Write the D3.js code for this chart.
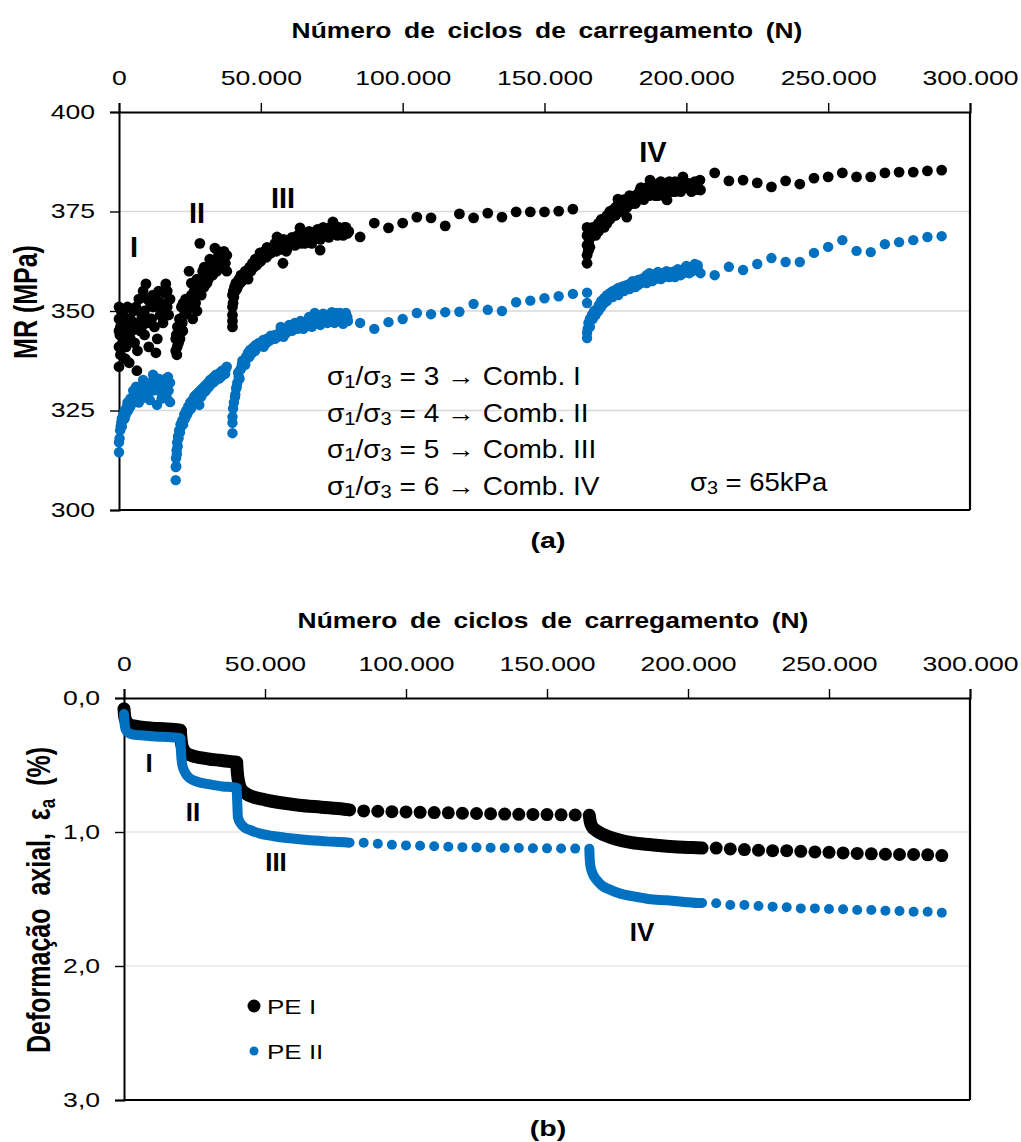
<!DOCTYPE html>
<html>
<head>
<meta charset="utf-8">
<script src="https://cdn.jsdelivr.net/npm/d3@7"></script>
<style>
  body { margin: 0; background: #fff; }
  svg { display: block; }
  text { font-family: "Liberation Sans", Arial, sans-serif; fill: #000; }
</style>
</head>
<body>
<svg id="fig" width="1021" height="1142"></svg>
<script>
// ---------- axis ticks ----------
const cycleTicks = [0, 50000, 100000, 150000, 200000, 250000, 300000];
const mrTicks = [300, 325, 350, 375, 400];
const defTicks = [0, 1, 2, 3];
const seriesNames = ["PE I", "PE II"];
const combLines = ["3 → Comb. I", "4 → Comb. II", "5 → Comb. III", "6 → Comb. IV"];
const phaseLabels = ["I", "II", "III", "IV"];

// ---------- (a) resilient modulus, PE I  [cycles, MPa] ----------
const mrPE1CombI = [[0,336],[0,341],[0,345],[0,348],[0,351],[300,344],[500,339],[500,346],[800,350],[1000,346],[1000,349],[1200,342],[1500,349],[1500,344],[2000,344],[2200,338],[2500,347],[2500,341],[3000,351],[3000,346],[3300,343],[3600,337],[4000,348],[4000,343],[4500,345],[5000,350],[5000,346],[5500,342],[6000,347],[6000,351],[6300,335],[6500,340],[7000,353],[7000,347],[7500,345],[8000,349],[8000,346],[8500,355],[9000,344],[9000,350],[9500,356.8],[10000,347],[10000,353],[10500,341],[11000,352],[11000,348],[11500,348],[12000,354],[12000,351],[12500,346],[13000,339.5],[13000,353],[13500,343],[14000,355],[14000,351],[14500,349],[15000,352],[15000,349],[15500,347],[16000,354.5],[16000,350],[16500,356.8],[17000,351],[17000,355],[17500,349],[18000,353]];
const mrPE1CombII = [[20000,340],[20000,343],[20200,344],[20400,339],[20500,341],[20600,346],[21000,342],[21300,348],[21500,343],[21600,345],[22000,351],[22300,347],[22500,345],[22600,352],[23000,349],[23500,353],[23500,350],[24000,350],[24500,352],[24700,360],[25000,352],[25500,357],[25500,354],[26000,354],[26000,348],[26500,351],[26500,355],[27000,356],[27000,352],[27500,350],[27500,358],[28000,355],[28000,358],[28500,367],[29000,357],[29000,354],[29500,360],[30000,356],[30000,361],[30500,359],[31000,361],[31000,357],[31500,358],[32000,360],[32000,363],[32500,362],[33000,359],[33000,362],[33800,365.8],[34000,363],[34000,361],[34500,360],[35000,362],[35000,365],[35500,364],[36000,361],[36000,363],[36700,364.3],[37000,365],[37000,361],[37500,362],[38000,364],[38000,360]];
const mrPE1CombIII = [[40000,346],[40000,347.5],[40000,349],[40000,351],[40000,354],[40200,352],[40300,355],[40500,353.5],[40700,356],[41000,355],[41200,357],[41500,355.5],[41800,356],[42000,357.5],[42300,358],[42700,357],[43000,359],[43300,357.5],[43700,358],[44000,359],[44500,360],[45100,359.5],[45500,358],[46000,361],[46500,360],[47000,362],[47500,361],[48000,363],[48500,361.5],[49000,362],[49700,364.6],[50000,362.5],[50500,364],[51000,363.5],[51300,365],[52000,363.5],[52200,366],[53000,365],[53500,364.5],[54000,366],[54500,365.5],[55000,367],[55500,365],[55700,368.6],[56500,366],[57000,365.5],[57800,362],[58000,368],[58500,367],[59000,365],[59500,366],[60000,366.5],[60500,368],[61000,368.5],[61500,367],[62000,366.5],[62500,368],[63000,369],[63800,370.9],[64000,367],[64500,368],[65000,369.5],[65500,367],[66000,367.5],[66500,369],[67000,370],[67500,368],[68000,367],[68500,369],[69000,368.5],[69500,370],[70000,370.5],[70900,365.3],[71000,368],[71500,369],[72000,371],[72500,370],[73000,370.5],[73500,369],[74000,368.5],[74500,371],[75000,369.5],[75400,372.4],[76000,371.5],[76500,370],[77000,369],[77500,371],[78000,370.5],[78500,370],[79000,369],[79500,371],[80000,371],[80500,369.5],[81000,370]];
const mrPE1Mid = [[85000,368.6],[90000,372.1],[95000,370.9],[100000,372.1],[105000,373.6],[110000,373.4],[115000,371.4],[120000,374.4],[125000,373.4],[130000,374.6],[135000,373.6],[140000,374.9],[145000,374.9],[150000,374.9],[155000,375.1],[160000,375.6]];
const mrPE1CombIV = [[165000,362],[165000,364],[165000,366.5],[165000,369],[165000,371],[165400,365],[165500,367],[165800,368],[166000,366],[166300,370],[167000,369],[167000,371],[168000,371],[168000,369],[169000,372],[169000,370],[170000,371],[170000,373],[171000,373],[171000,371],[172000,374],[172000,372],[173000,373],[173000,375],[174000,374],[174100,375.4],[175000,376],[175000,374],[175900,378.1],[176000,377],[177000,376],[177000,375],[178000,377],[178000,378],[179000,373.6],[179000,376],[180000,377],[180000,379],[181000,378],[181000,377],[182000,379],[182000,377],[183000,378],[183000,379.5],[183700,380.4],[184000,381],[184700,379],[185000,378],[185700,380],[186000,381],[187000,379],[187200,382.9],[188000,380],[188000,382],[189000,381],[189000,379],[190000,379],[190000,382],[191000,380],[191000,382.5],[192000,381],[192000,379],[193000,380],[193200,377.9],[194000,381],[194000,382.5],[195000,382],[195000,380],[196000,380],[196000,382.5],[197000,382],[197000,381],[198000,381],[198000,380],[198800,383.7],[199000,382.5],[199800,381],[200000,381],[200800,382],[201000,382],[201800,380],[202000,381],[202800,382],[203000,382.5],[203800,381],[204000,380.5],[204800,382.9],[205000,380.4]];
const mrPE1End = [[210000,384.7],[215000,382.7],[220000,382.9],[225000,382.2],[230000,381.2],[235000,382.7],[240000,381.9],[245000,383.4],[250000,383.7],[255000,384.7],[260000,383.7],[265000,383.7],[270000,384.7],[275000,384.9],[280000,384.9],[285000,385.2],[290000,385.4]];

// ---------- (a) resilient modulus, PE II ----------
const mrPE2CombI = [[0,314.5],[0,317],[200,318],[400,320],[600,321],[800,322],[1000,323],[1000,321],[1300,322.5],[1600,324],[2000,325],[2000,323],[2400,324],[2800,326],[3000,327],[3200,325],[3600,327],[4000,326],[4000,328],[4900,326.9],[5000,328],[5000,330],[5500,329],[6000,328],[6000,331],[6500,330],[7000,329],[7000,327],[7500,331],[8000,328],[8000,331],[8500,332.7],[9000,330],[9000,331.5],[9500,329],[10000,331],[10000,329],[10900,327.6],[11000,330],[11000,332],[11500,332],[12000,334],[12000,330],[12500,331],[13000,333],[13000,331],[13400,326.4],[14000,330],[14000,333],[14500,332],[15000,328],[15000,330],[15500,331],[16000,329],[16000,331],[16500,333],[17000,328],[17000,331.5],[17300,333.4],[17500,330],[18000,332],[18000,327.1]];
const mrPE2CombII = [[20000,307.5],[20000,310.8],[20100,313],[20200,311],[20300,315],[20400,314],[20500,317],[20700,316],[20800,318.5],[21000,318],[21200,320],[21500,319.5],[21700,321.5],[22000,321],[22300,322.5],[22600,321.5],[23000,324],[23300,323],[23700,325],[24000,324],[24400,326],[24700,325],[25100,327],[25400,325.5],[25800,327.5],[26100,326.5],[26500,328.5],[26800,327],[27200,329],[27500,328],[27900,329.5],[28200,328],[28300,326.4],[28600,330],[29000,328.5],[29300,330.5],[29700,329.5],[30000,331],[30400,329.8],[30700,331.5],[31100,330.5],[31400,332],[31800,331],[32100,332.7],[32500,331.8],[32800,333],[33200,332],[33500,333.5],[33900,332.5],[34200,334],[34600,333],[34900,334],[35300,333],[35600,334.5],[36000,333.5],[36300,335],[36700,334],[37000,335.2],[37400,334.2],[37700,335.5],[38000,336]];
const mrPE2CombIII = [[40000,319.3],[40000,321.9],[40000,323.4],[40200,325.5],[40500,327],[40900,328.4],[41000,329],[41300,330.5],[41500,331],[41700,332],[42000,334.5],[42200,333.5],[42500,333],[42700,335.2],[43000,335.5],[43300,336.5],[43500,337.5],[44000,337.5],[44500,336.5],[44800,338.5],[45000,338],[45500,339.5],[46000,338.5],[46200,340.2],[47000,339.5],[47200,340.8],[48000,340],[48200,341.5],[49000,341],[49300,342],[50000,341.5],[50800,342.7],[51000,341],[52000,343],[52000,342],[53000,342.5],[53500,343.8],[54000,343],[55000,344],[55000,343],[56000,343.5],[56500,344.5],[57000,346],[57800,344.7],[58000,343.5],[59000,345.3],[59000,344.5],[60000,346.5],[60500,345.5],[61000,345],[62000,346],[62000,347],[63000,345.5],[63800,346],[64000,347.5],[65000,346.8],[65000,345.5],[66000,346.5],[66500,347.3],[67000,348.5],[68000,347.5],[68000,346],[69000,349.5],[69000,347],[69800,348.2],[70000,349],[71000,348],[71000,346.5],[72000,349.3],[72500,348.5],[73000,348],[73500,347],[74000,347.5],[74400,349],[75000,349.7],[75500,348.3],[76000,347],[76500,349.5],[77000,349],[77500,347.5],[78000,349.5],[78500,348.5],[79000,346.8],[79700,347.7],[80000,349.5],[80500,348.5],[80700,347.5]];
const mrPE2Mid = [[85000,347],[90000,345.5],[95000,347.2],[100000,348],[105000,349.5],[110000,349.2],[115000,349.7],[120000,349.8],[125000,351.8],[130000,350.3],[135000,350],[140000,352.2],[145000,352.6],[150000,353.2],[155000,353.7],[160000,354.3],[165000,354.6],[165000,352]];
const mrPE2CombIV = [[165000,343.2],[165000,344.5],[165200,345.5],[165500,347],[166000,348],[166000,346],[166700,349],[167000,348],[167500,350],[168000,349],[168500,350.5],[169000,350],[169200,351.5],[170000,352.5],[170000,351],[171000,353.2],[171000,352],[172000,354],[172000,352.5],[173000,354.5],[173000,353.5],[174000,355],[174000,353.5],[175000,355.3],[175000,354.5],[176000,355.8],[176000,354],[177000,356],[177000,355],[178000,356.3],[178000,355],[179000,356.5],[179000,355.5],[180000,356.8],[180000,355.5],[181000,356.5],[181000,357.5],[182000,357.5],[182000,356],[183000,357.8],[183000,356.5],[184000,358],[184000,357],[185000,358.3],[185000,357.5],[186000,359],[186000,357],[187000,358.5],[187000,359.5],[188000,358.8],[188000,357.5],[189000,359.2],[189000,358],[190000,358.5],[190000,359.8],[191000,359],[191000,358],[192000,359.5],[192000,358.5],[193000,358.8],[193000,360],[194000,359.5],[194000,358.5],[195000,359.8],[195000,359],[196000,360],[196000,358.5],[197000,359.6],[197000,360.5],[198000,360.2],[198000,359],[199000,360.5],[199000,359.5],[200000,360.3],[200000,361.3],[201000,360.6],[201000,359.5],[202000,361],[202000,360],[203000,360.8],[203000,361.8],[204000,361.5],[204000,360.5],[205000,359.5]];
const mrPE2End = [[210000,359],[215000,361.1],[220000,360.3],[225000,361.8],[230000,363.3],[235000,362.3],[240000,362.3],[245000,364.6],[250000,366.1],[255000,367.8],[260000,365.1],[265000,364.8],[270000,366.8],[275000,367.3],[280000,367.8],[285000,368.6],[290000,368.8]];

// ---------- (b) axial strain, PE I  [cycles, %] ----------
const defPE1CombI = [[0,0.08],[200,0.13],[500,0.16],[1000,0.18],[2000,0.2],[4000,0.21],[7000,0.22],[10000,0.225],[14000,0.23],[18000,0.235],[20000,0.24]];
const defPE1CombII = [[20000,0.25],[20200,0.3],[20500,0.35],[21000,0.38],[22000,0.41],[24000,0.43],[27000,0.445],[30000,0.455],[34000,0.465],[38000,0.475],[40000,0.48]];
const defPE1CombIII = [[40000,0.5],[40300,0.58],[40800,0.64],[41500,0.68],[43000,0.71],[46000,0.74],[50000,0.76],[55000,0.78],[62000,0.8],[70000,0.815],[78000,0.83],[80000,0.835]];
const defPE1Mid = [[85000,0.843],[90000,0.845],[95000,0.848],[100000,0.85],[105000,0.853],[110000,0.855],[115000,0.857],[120000,0.86],[125000,0.862],[130000,0.864],[135000,0.866],[140000,0.868],[145000,0.869],[150000,0.87],[155000,0.872],[160000,0.873]];
const defPE1CombIV = [[165000,0.875],[165300,0.92],[166000,0.96],[167500,0.99],[170000,1.02],[174000,1.05],[180000,1.08],[187000,1.095],[195000,1.11],[200000,1.115],[205000,1.12]];
const defPE1End = [[210000,1.12],[215000,1.126],[220000,1.131],[225000,1.136],[230000,1.139],[235000,1.139],[240000,1.144],[245000,1.149],[250000,1.152],[255000,1.156],[260000,1.16],[265000,1.163],[270000,1.166],[275000,1.168],[280000,1.168],[285000,1.17],[290000,1.176]];

// ---------- (b) axial strain, PE II ----------
const defPE2CombI = [[0,0.12],[200,0.19],[500,0.23],[1000,0.25],[2000,0.265],[4000,0.275],[7000,0.28],[10000,0.285],[14000,0.29],[18000,0.295],[20000,0.3]];
const defPE2CombII = [[20000,0.31],[20200,0.4],[20600,0.49],[21500,0.55],[23400,0.6],[26000,0.625],[30500,0.645],[35000,0.66],[38700,0.665],[40000,0.67]];
const defPE2CombIII = [[40000,0.7],[40200,0.8],[40400,0.89],[41500,0.94],[43000,0.97],[44700,0.985],[48000,1.01],[52800,1.03],[58000,1.045],[64900,1.06],[72000,1.07],[79100,1.078],[80000,1.08]];
const defPE2Mid = [[85000,1.08],[90000,1.088],[95000,1.095],[100000,1.1],[105000,1.103],[110000,1.107],[115000,1.11],[120000,1.113],[125000,1.115],[130000,1.117],[135000,1.119],[140000,1.12],[145000,1.121],[150000,1.122],[155000,1.123],[160000,1.124]];
const defPE2CombIV = [[165000,1.125],[165100,1.18],[165300,1.24],[166000,1.3],[167700,1.36],[169500,1.4],[172300,1.43],[176000,1.46],[180500,1.48],[186000,1.5],[192500,1.51],[198000,1.52],[204300,1.53],[205000,1.53]];
const defPE2End = [[210000,1.532],[215000,1.545],[220000,1.545],[225000,1.552],[230000,1.557],[235000,1.562],[240000,1.57],[245000,1.57],[250000,1.575],[255000,1.577],[260000,1.582],[265000,1.582],[270000,1.587],[275000,1.59],[280000,1.595],[285000,1.595],[290000,1.602]];

// ---------- drawing ----------
const BLACK = "#000000", BLUE = "#0070C0";
const SX = 1.3; // horizontal glyph stretch used throughout the figure
const svg = d3.select("#fig");
svg.append("rect").attr("width", 1021).attr("height", 1142).attr("fill", "#fff");

const ptBR = d3.formatLocale({ decimal: ",", thousands: ".", grouping: [3], currency: ["", ""] });
const fmtCycles = ptBR.format(",");
const fmtDef = ptBR.format(".1f");

function label(x, y, str, size, opts = {}) {
  const t = svg.append("text")
    .attr("transform", `translate(${x},${y}) scale(${opts.sx ?? SX},1)` + (opts.rot ? ` rotate(${opts.rot})` : ""))
    .attr("text-anchor", opts.anchor ?? "middle")
    .attr("font-size", size)
    .attr("font-weight", opts.bold ? "bold" : "normal");
  if (opts.ws) t.attr("word-spacing", opts.ws);
  t.text(str);
  return t;
}

function panel(x, y, yTickVals, yFmt, gridColor) {
  const top = Math.min(...y.range()), bot = Math.max(...y.range());
  const left = x.range()[0], right = x.range()[1];
  const g = svg.append("g");
  // gridlines
  g.append("g").selectAll("line")
    .data(yTickVals.filter(v => y(v) > top + 1 && y(v) < bot - 1))
    .join("line")
    .attr("x1", left).attr("x2", right)
    .attr("y1", d => y(d)).attr("y2", d => y(d))
    .attr("stroke", gridColor).attr("stroke-width", 1.3);
  // frame
  g.append("line").attr("x1", right).attr("x2", right).attr("y1", top).attr("y2", bot)
    .attr("stroke", "#000").attr("stroke-width", 2.2);
  g.append("line").attr("x1", left).attr("x2", right).attr("y1", bot).attr("y2", bot)
    .attr("stroke", "#000").attr("stroke-width", 2.2);
  // top cycle axis
  const ax = g.append("g").attr("transform", `translate(0,${top})`)
    .call(d3.axisTop(x).tickValues(cycleTicks).tickFormat(fmtCycles)
      .tickSize(9).tickSizeOuter(9).tickPadding(18));
  // left axis
  const ay = g.append("g").attr("transform", `translate(${left},0)`)
    .call(d3.axisLeft(y).tickValues(yTickVals).tickFormat(yFmt)
      .tickSize(9).tickSizeOuter(9).tickPadding(9));
  [ax, ay].forEach(a => {
    a.attr("font-family", null).attr("font-size", 20);
    a.select(".domain").attr("stroke-width", 2);
    a.selectAll(".tick line").attr("stroke-width", 1.4);
    a.selectAll("text").attr("transform", "scale(1.33,1)").attr("fill", "#000");
  });
  return g;
}

function dots(g, data, x, y, r, color) {
  g.append("g").selectAll("circle").data(data).join("circle")
    .attr("cx", d => x(d[0])).attr("cy", d => y(d[1])).attr("r", r).attr("fill", color);
}

// ===== (a) =====
const xA = d3.scaleLinear().domain([0, 300000]).range([119, 970]);
const yA = d3.scaleLinear().domain([300, 400]).range([510, 112]);
panel(xA, yA, mrTicks, d3.format("d"), "#d9d9d9");

const gA = svg.append("g");
[mrPE1CombI, mrPE1CombII, mrPE1CombIII, mrPE1Mid, mrPE1CombIV, mrPE1End]
  .forEach(s => dots(gA, s, xA, yA, 5.4, BLACK));
[mrPE2CombI, mrPE2CombII, mrPE2CombIII, mrPE2Mid, mrPE2CombIV, mrPE2End]
  .forEach(s => dots(gA, s, xA, yA, 5.2, BLUE));

label(547, 38, "Número de ciclos de carregamento (N)", 22, { bold: true, sx: 1.2, ws: 4.5 });
label(37, 302, "MR (MPa)", 25, { bold: true, rot: -90 });
label(548, 548, "(a)", 22, { bold: true });

// phase labels on (a)
const phasePosA = [[134, 257], [197, 223], [283, 208], [653, 162]];
phaseLabels.forEach((p, i) => label(phasePosA[i][0], phasePosA[i][1], p, 29, { bold: true, sx: 1 }));

// loading combinations
combLines.forEach((s, i) => {
  const t = svg.append("text")
    .attr("transform", `translate(327,${385 + i * 36.5}) scale(1.12,1)`)
    .attr("font-size", 25);
  t.append("tspan").text("σ");
  t.append("tspan").attr("font-size", 18).attr("dy", 3).text("1");
  t.append("tspan").attr("dy", -3).text("/σ");
  t.append("tspan").attr("font-size", 18).attr("dy", 3).text("3");
  t.append("tspan").attr("dy", -3).text(" = " + s);
});
{
  const t = svg.append("text")
    .attr("transform", "translate(690,491) scale(1.1,1)")
    .attr("font-size", 25);
  t.append("tspan").text("σ");
  t.append("tspan").attr("font-size", 18).attr("dy", 3).text("3");
  t.append("tspan").attr("dy", -3).text(" = 65kPa");
}

// ===== (b) =====
const xB = d3.scaleLinear().domain([0, 300000]).range([124, 970]);
const yB = d3.scaleLinear().domain([0, 3]).range([698, 1100]);
panel(xB, yB, defTicks, fmtDef, "#e8e8e8");

const gB = svg.append("g");
const lineB = d3.line().x(d => xB(d[0])).y(d => yB(d[1])).curve(d3.curveMonotoneX);
function band(data, w, color) {
  gB.append("path").datum(data).attr("d", lineB)
    .attr("fill", "none").attr("stroke", color).attr("stroke-width", w)
    .attr("stroke-linecap", "round").attr("stroke-linejoin", "round");
}
[defPE1CombI, defPE1CombII, defPE1CombIII, defPE1CombIV].forEach(s => band(s, 13, BLACK));
[defPE1Mid, defPE1End].forEach(s => dots(gB, s, xB, yB, 6.5, BLACK));
[defPE2CombI, defPE2CombII, defPE2CombIII, defPE2CombIV].forEach(s => band(s, 10, BLUE));
[defPE2Mid, defPE2End].forEach(s => dots(gB, s, xB, yB, 5, BLUE));

label(553, 628, "Número de ciclos de carregamento (N)", 22, { bold: true, sx: 1.2, ws: 4.5 });
label(548, 1136, "(b)", 22, { bold: true });
{
  const t = svg.append("text")
    .attr("transform", "translate(50,1053) scale(1.3,1) rotate(-90)")
    .attr("text-anchor", "start").attr("font-size", 25).attr("font-weight", "bold")
    .attr("word-spacing", 6);
  t.append("tspan").text("Deformação axial, ε");
  t.append("tspan").attr("font-size", 17).attr("dy", 4).text("a");
  t.append("tspan").attr("dy", -4).text(" (%)");
}

const phasePosB = [[149, 772], [193, 821], [276, 871], [642, 941]];
phaseLabels.forEach((p, i) => label(phasePosB[i][0], phasePosB[i][1], p, 26, { bold: true, sx: 1 }));

// legend
const legend = svg.append("g");
const legendItems = [
  { name: seriesNames[0], color: BLACK, r: 6.5, y: 1006 },
  { name: seriesNames[1], color: BLUE, r: 4.5, y: 1051 }
];
legendItems.forEach(it => {
  legend.append("circle").attr("cx", 254).attr("cy", it.y).attr("r", it.r).attr("fill", it.color);
  label(267, it.y + 7.5, it.name, 20, { anchor: "start" });
});
</script>
</body>
</html>
